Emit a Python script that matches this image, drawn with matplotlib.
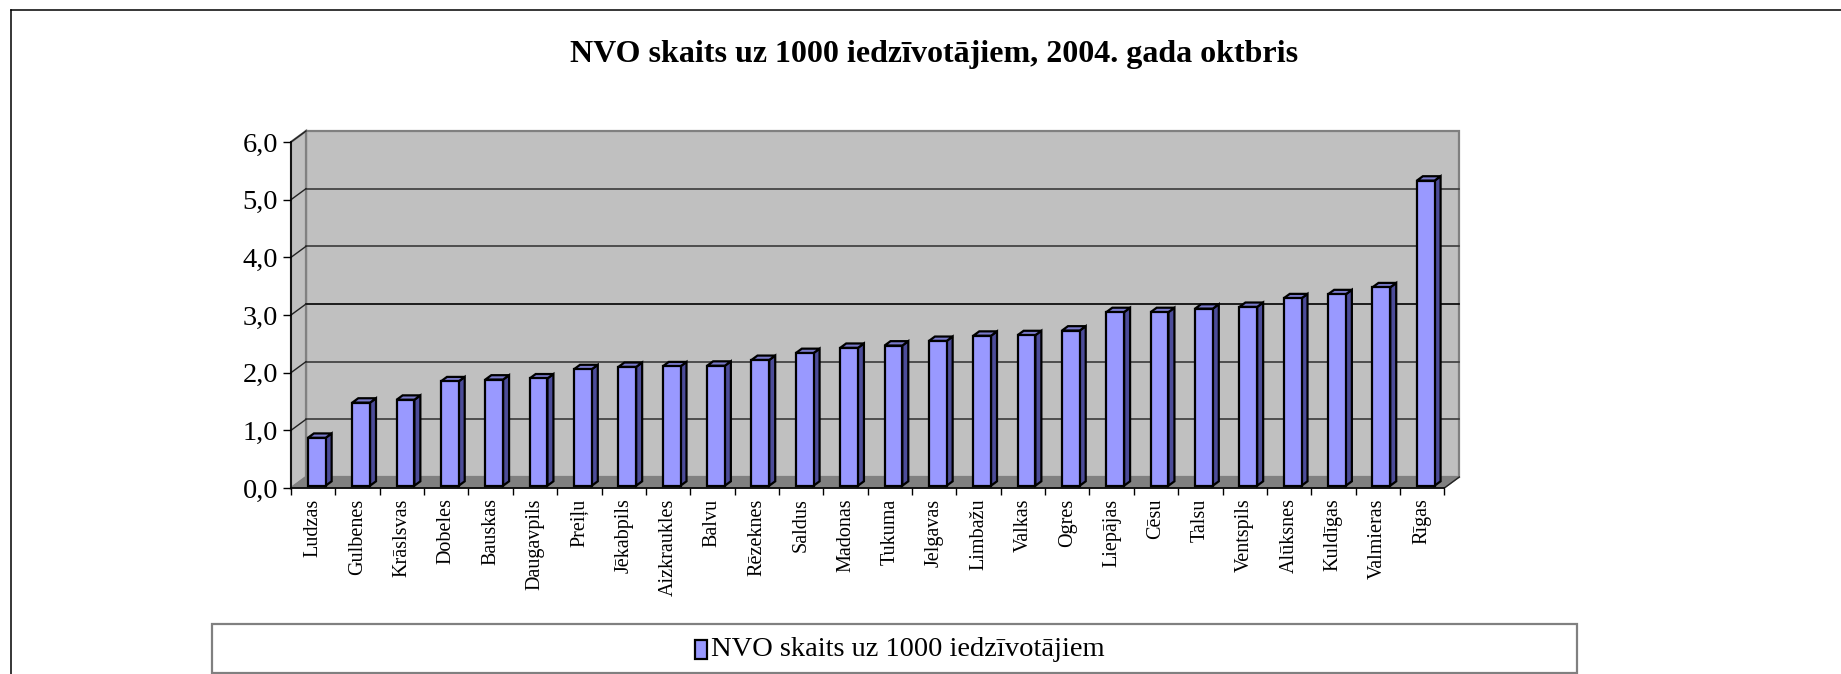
import matplotlib
matplotlib.use("Agg")
import matplotlib.pyplot as plt
from matplotlib.patches import Polygon, Rectangle
from matplotlib.lines import Line2D

# Data
regions = ["Ludzas", "Gulbenes", "Krāslsvas", "Dobeles", "Bauskas", "Daugavpils",
           "Preiļu", "Jēkabpils", "Aizkraukles", "Balvu", "Rēzeknes", "Saldus",
           "Madonas", "Tukuma", "Jelgavas", "Limbažu", "Valkas", "Ogres",
           "Liepājas", "Cēsu", "Talsu", "Ventspils", "Alūksnes", "Kuldīgas",
           "Valmieras", "Rīgas"]
values = [0.83, 1.44, 1.49, 1.81, 1.84, 1.86, 2.02, 2.06, 2.07, 2.08, 2.18, 2.30,
          2.39, 2.43, 2.51, 2.60, 2.61, 2.69, 3.01, 3.01, 3.07, 3.10, 3.25, 3.32,
          3.44, 5.29]
y_ticks = [0, 1, 2, 3, 4, 5, 6]
y_labels = ["0,0", "1,0", "2,0", "3,0", "4,0", "5,0", "6,0"]
title = "NVO skaits uz 1000 iedzīvotājiem, 2004. gada oktbris"
series_name = "NVO skaits uz 1000 iedzīvotājiem"

W, H = 1841, 674
plt.rcParams["font.family"] = ["Liberation Serif", "DejaVu Serif"]

fig = plt.figure(figsize=(W / 100, H / 100), dpi=100)
ax = fig.add_axes([291 / W, (H - 488) / H, 1153.3 / W, 346 / H])
ax.set_facecolor("none")

n = len(regions)
ymax = 6
# depth of the 3D box, in data units (15 px right, 11 px up)
ddx = 15 / (1153.3 / n)
ddy = 11 / (346 / ymax)

# walls and floor
back = Rectangle((ddx, ddy), n, ymax, facecolor="#C0C0C0", edgecolor="#808080",
                 lw=1.6, zorder=0, clip_on=False)
side = Polygon([(0, 0), (ddx, ddy), (ddx, ymax + ddy), (0, ymax)], closed=True,
               facecolor="#C0C0C0", edgecolor="#808080", lw=1.6, zorder=0, clip_on=False)
floor = Polygon([(0, 0), (n, 0), (n + ddx, ddy), (ddx, ddy)], closed=True,
                facecolor="#808080", edgecolor="#808080", lw=1, zorder=0.5, clip_on=False)
for p in (back, side, floor):
    ax.add_patch(p)

for k in y_ticks[1:-1]:
    col = "black" if k == 3 else "#3a3a3a"
    ax.plot([ddx, n + ddx], [k + ddy, k + ddy], color=col, lw=1.2, zorder=1, clip_on=False)
for k in y_ticks[1:]:
    ax.plot([0, ddx], [k, k + ddy], color="#222222", lw=1.0, zorder=1, clip_on=False)
ax.plot([n, n + ddx], [0, ddy], color="#222222", lw=1.0, zorder=1, clip_on=False)

# bars
bw = 0.4
fd = 0.21          # depth of bar front face
bd = 0.40          # bar depth
base = fd * ddy
sx, sy = bd * ddx, bd * ddy
centers = [i + 0.5 + fd * ddx + 0.01 for i in range(n)]
ax.bar(centers, values, width=bw, bottom=base, color="#9999FF", edgecolor="black",
       lw=1.6, zorder=3, clip_on=False)
for c, v in zip(centers, values):
    xl, xr = c - bw / 2, c + bw / 2
    top = v + base
    ax.add_patch(Polygon([(xr, base), (xr + sx, base + sy), (xr + sx, top + sy), (xr, top)],
                         closed=True, facecolor="#4C4C99", edgecolor="black", lw=1.6,
                         zorder=2.9, clip_on=False))
    ax.add_patch(Polygon([(xl, top), (xr, top), (xr + sx, top + sy), (xl + sx, top + sy)],
                         closed=True, facecolor="#7A7ACC", edgecolor="black", lw=1.6,
                         zorder=2.9, clip_on=False))

ax.set_xlim(0, n)
ax.set_ylim(0, ymax)
for s in ("top", "right"):
    ax.spines[s].set_visible(False)
for s in ("left", "bottom"):
    ax.spines[s].set_color("black")
    ax.spines[s].set_linewidth(1.2)
    ax.spines[s].set_zorder(4)

ax.set_yticks(y_ticks)
ax.set_yticklabels(y_labels, fontsize=20.5)
ax.tick_params(axis="y", length=5.8, width=1.0, pad=3.6, direction="out")

ax.set_xticks(range(n + 1))
ax.set_xticklabels([])
ax.set_xticks([i + 0.5 for i in range(n)], minor=True)
ax.set_xticklabels(regions, minor=True, rotation=90, fontsize=14.5, va="top")
ax.tick_params(axis="x", which="major", length=5, width=1.0, direction="out")
ax.tick_params(axis="x", which="minor", length=0, pad=7.5)

fig.text(934 / W, (H - 62) / H, title, ha="center", va="baseline", fontsize=23,
         fontweight="bold")

# chart border (cut off on the right and bottom)
fig.add_artist(Line2D([10.5 / W, 1], [1 - 10 / H, 1 - 10 / H], color="black", lw=1.1))
fig.add_artist(Line2D([10.5 / W, 10.5 / W], [0, 1 - 10 / H], color="black", lw=1.1))

# legend box
fig.add_artist(Rectangle((211.7 / W, (H - 672.7) / H), 1365 / W, 48.4 / H,
                         transform=fig.transFigure, facecolor="white",
                         edgecolor="#808080", lw=1.6))
fig.add_artist(Rectangle((695 / W, (H - 659) / H), 12 / W, 19 / H,
                         transform=fig.transFigure, facecolor="#9999FF",
                         edgecolor="black", lw=1.6))
fig.text(711 / W, (H - 649) / H, series_name, ha="left", va="center", fontsize=20.5)

fig.savefig("out.png", dpi=100)
